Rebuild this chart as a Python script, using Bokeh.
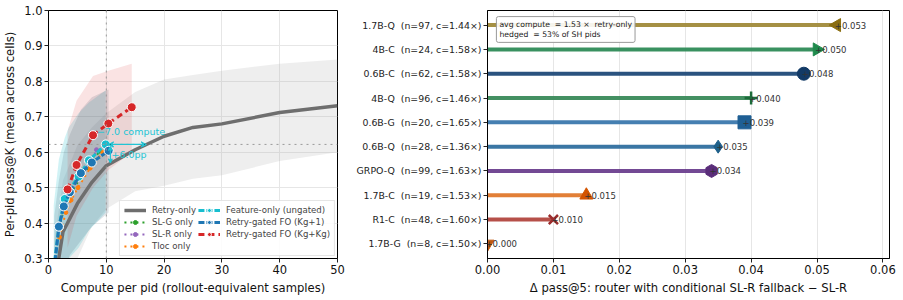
import numpy as np
from bokeh.plotting import figure
from bokeh.layouts import row
from bokeh.models import (ColumnDataSource, Legend, LegendItem, Span, Arrow,
                          VeeHead, Label, FixedTicker, Range1d)
from bokeh.core.properties import value
from bokeh.embed import file_html
from bokeh.resources import INLINE

FONT = "DejaVu Sans"

# ---------------- left panel: pass@K vs compute ----------------
retry_x = [1.0, 2.5, 5.0, 7.5, 10.0, 15.0, 20.0, 25.0, 30.0, 40.0, 50.0]
retry_y = [0.22, 0.375, 0.455, 0.515, 0.562, 0.607, 0.645, 0.670, 0.680, 0.712, 0.731]
retry_lo = [0.05, 0.15, 0.30, 0.39, 0.44, 0.49, 0.505, 0.525, 0.535, 0.575, 0.600]
retry_hi = [0.35, 0.52, 0.62, 0.67, 0.71, 0.77, 0.805, 0.818, 0.830, 0.850, 0.862]

slg_x = [1.8, 2.7, 3.7, 5.4, 7.4, 8.8]
slg_y = [0.385, 0.440, 0.480, 0.525, 0.566, 0.603]

slr_x = [1.8, 2.7, 3.7, 5.3, 7.3, 8.3]
slr_y = [0.383, 0.443, 0.484, 0.530, 0.567, 0.607]

tloc_x = [1.9, 3.0, 3.9, 5.1, 7.2, 9.4]
tloc_y = [0.360, 0.430, 0.465, 0.500, 0.555, 0.600]

feat_x = [0.9, 1.8, 2.8, 3.5, 5.2, 7.0, 9.9]
feat_y = [0.27, 0.390, 0.468, 0.492, 0.531, 0.577, 0.622]
feat_lo = [0.15, 0.22, 0.27, 0.30, 0.33, 0.38, 0.43]
feat_hi = [0.45, 0.58, 0.64, 0.67, 0.71, 0.74, 0.775]

g1_x = [1.0, 1.8, 2.65, 3.7, 5.6, 7.5, 10.4]
g1_y = [0.27, 0.390, 0.447, 0.487, 0.541, 0.571, 0.604]
g1_lo = [0.18, 0.22, 0.26, 0.31, 0.35, 0.39, 0.43]
g1_hi = [0.42, 0.52, 0.60, 0.65, 0.72, 0.755, 0.777]

gg_x = [3.3, 4.85, 7.7, 10.35, 14.4]
gg_y = [0.495, 0.564, 0.648, 0.681, 0.727]
gg_lo = [0.33, 0.42, 0.50, 0.55, 0.60]
gg_hi = [0.66, 0.745, 0.815, 0.830, 0.850]

compute_saving = 7.0   # retry-only compute minus feature-only compute at equal pass@K
pp_gain = 6.0          # pass@K gain of feature-only over retry-only at equal compute

x_ticks_left = [0, 10, 20, 30, 40, 50]
y_ticks_left = [0.3, 0.4, 0.5, 0.6, 0.7, 0.8, 0.9, 1.0]

p1 = figure(width=345, height=300, x_range=Range1d(0, 50), y_range=Range1d(0.3, 1.0),
            output_backend="svg", toolbar_location=None,
            min_border_left=48, min_border_right=8, min_border_top=10, min_border_bottom=42)

# uncertainty bands
p1.varea(x=retry_x, y1=retry_lo, y2=retry_hi, fill_color="#a8a8a8", fill_alpha=0.2)
p1.varea(x=feat_x, y1=feat_lo, y2=feat_hi, fill_color="#17becf", fill_alpha=0.2)
p1.varea(x=g1_x, y1=g1_lo, y2=g1_hi, fill_color="#35556f", fill_alpha=0.16)
p1.varea(x=gg_x, y1=gg_lo, y2=gg_hi, fill_color="#d62728", fill_alpha=0.13)

# reference lines at the feature-only endpoint
p1.add_layout(Span(location=10, dimension="height", line_color="#999999",
                   line_dash="dotted", line_width=1))
p1.add_layout(Span(location=feat_y[-1], dimension="width", line_color="#999999",
                   line_dash="dotted", line_width=1))

items = []
r = p1.line(retry_x, retry_y, line_color="#6e6e6e", line_width=3.5)
items.append(LegendItem(label="Retry-only", renderers=[r]))

def small_series(xs, ys, color, label):
    l = p1.line(xs, ys, line_color=color, line_width=2, line_dash="dotted")
    s = p1.scatter(xs, ys, size=4, fill_color=color, line_color=color)
    items.append(LegendItem(label=label, renderers=[l, s]))

small_series(slg_x, slg_y, "#2ca02c", "SL-G only")
small_series(slr_x, slr_y, "#9467bd", "SL-R only")
small_series(tloc_x, tloc_y, "#ff7f0e", "Tloc only")

def main_series(xs, ys, color, dash, label):
    l = p1.line(xs, ys, line_color=color, line_width=3, line_dash=dash)
    s = p1.scatter(xs, ys, size=9, fill_color=color, line_color="white", line_width=1)
    items.append(LegendItem(label=label, renderers=[l, s]))

main_series(feat_x, feat_y, "#17becf", "6 2", "Feature-only (ungated)")
main_series(g1_x, g1_y, "#1f77b4", "6 2", "Retry-gated FO (Kg+1)")
main_series(gg_x, gg_y, "#d62728", "6 4", "Retry-gated FO (Kg+Kg)")

# savings arrows
fx, fy = feat_x[-1], feat_y[-1]
cyan = "#22c4d4"
p1.add_layout(Arrow(start=VeeHead(size=5, line_color=cyan, line_width=1.2),
                    end=VeeHead(size=5, line_color=cyan, line_width=1.2),
                    x_start=fx + 0.5, y_start=fy, x_end=fx + compute_saving, y_end=fy,
                    line_color=cyan, line_width=1.2))
p1.add_layout(Arrow(start=VeeHead(size=4, line_color=cyan, line_width=1.2),
                    end=VeeHead(size=4, line_color=cyan, line_width=1.2),
                    x_start=fx + 0.8, y_start=fy - 0.006, x_end=fx + 0.8,
                    y_end=fy - pp_gain / 100 + 0.008,
                    line_color=cyan, line_width=1.2))
p1.add_layout(Label(x=8.4, y=0.658, text=f"\u2212{compute_saving:.1f} compute",
                    text_color=cyan, text_font=FONT, text_font_size="9.5px",
                    text_baseline="middle", text_align="left"))
p1.add_layout(Label(x=fx + 1.0, y=0.593, text=f"+{pp_gain:.1f}pp",
                    text_color=cyan, text_font=FONT, text_font_size="9.5px",
                    text_baseline="middle", text_align="left"))

legend = Legend(items=items, location="bottom_right", ncols=2,
                label_text_font=FONT, label_text_font_size="8.6px",
                glyph_width=22, glyph_height=10, label_height=10, spacing=2,
                padding=4, margin=2, label_standoff=6,
                border_line_color="#cccccc", background_fill_alpha=0.85)
p1.add_layout(legend)

p1.xaxis.axis_label = "Compute per pid (rollout-equivalent samples)"
p1.yaxis.axis_label = "Per-pid pass@K (mean across cells)"
p1.xaxis.ticker = FixedTicker(ticks=x_ticks_left)
p1.yaxis.ticker = FixedTicker(ticks=y_ticks_left)
p1.yaxis.major_label_overrides = {t: f"{t:.1f}" for t in y_ticks_left}

# ---------------- right panel: router gain per model ----------------
models = ["1.7B-G", "R1-C", "1.7B-C", "GRPO-Q", "0.6B-Q", "0.6B-G", "4B-Q", "0.6B-C", "4B-C", "1.7B-Q"]
n_pids = [8, 48, 19, 99, 28, 20, 96, 62, 24, 97]
compute_ratio = [1.50, 1.60, 1.53, 1.63, 1.36, 1.65, 1.46, 1.58, 1.58, 1.44]
delta = [0.000, 0.010, 0.015, 0.034, 0.035, 0.039, 0.040, 0.048, 0.050, 0.053]
line_colors = ["#c8621a", "#b2473f", "#e0782c", "#6b3f8e", "#2f6f9f", "#3b78ad",
               "#3a8a5a", "#1f4a78", "#2e8b57", "#a08a3a"]
marker_colors = ["#c0580f", "#9b2c2c", "#d35400", "#5a2d7a", "#1d5f8a", "#1f5f94",
                 "#1d6b3a", "#123a66", "#1f8a4c", "#8a6d0f"]
markers = ["inverted_triangle", "x", "triangle", "hex", "diamond", "square",
           "cross", "circle", "triangle", "triangle"]
angles = [0, 0, 0, np.pi / 2, 0, 0, 0, 0, -np.pi / 2, np.pi / 2]
avg_compute = 1.53
hedged_pct = 53
x_ticks_right = [0.0, 0.01, 0.02, 0.03, 0.04, 0.05, 0.06]

idx = list(range(len(models)))
# non-breaking space keeps the double gap between model name and stats
tick_labels = {i: f"{m} \u00a0(n={n}, c={c:.2f}\u00d7)" for i, (m, n, c) in
               enumerate(zip(models, n_pids, compute_ratio))}

src = ColumnDataSource(dict(
    y=idx, x0=[0.0] * len(idx), v=delta, lc=line_colors, mc=marker_colors,
    mk=markers, ang=angles, txt=[f"+{d:.3f}" for d in delta],
    lw=[2.5 if m in ("x", "cross") else 1 for m in markers],
))

p2 = figure(width=558, height=300, x_range=Range1d(0, 0.061), y_range=Range1d(-0.6, 9.6),
            output_backend="svg", toolbar_location=None,
            min_border_left=142, min_border_right=14, min_border_top=10, min_border_bottom=42)
p2.segment(x0="x0", y0="y", x1="v", y1="y", source=src, line_color="lc",
           line_width=4, line_alpha=0.95)
p2.scatter(x="v", y="y", marker="mk", angle="ang", source=src, size=13,
           fill_color="mc", line_color="mc", line_width="lw")
p2.text(x="v", y="y", text="txt", source=src, x_offset=-2,
        text_font=value(FONT), text_font_size="8.5px", text_color="#333333",
        text_baseline="middle", text_align="left")

p2.add_layout(Label(x=0.00135, y=9.35,
                    text=f"avg compute \u00a0= {avg_compute:.2f} \u00d7 \u00a0retry-only\nhedged \u00a0= {hedged_pct}% of SH pids",
                    text_font=FONT, text_font_size="7.7px", text_color="#222222",
                    text_baseline="top", text_align="left", padding=3,
                    border_line_color="#999999", border_line_width=1,
                    background_fill_color="white", background_fill_alpha=0.9,
                    border_radius=2))

p2.yaxis.ticker = FixedTicker(ticks=idx)
p2.yaxis.major_label_overrides = tick_labels
p2.xaxis.ticker = FixedTicker(ticks=x_ticks_right)
p2.xaxis.major_label_overrides = {t: f"{t:.2f}" for t in x_ticks_right}
p2.xaxis.axis_label = "\u0394 pass@5: router with conditional SL-R fallback \u2212 SL-R"
p2.ygrid.grid_line_color = None

for p in (p1, p2):
    p.outline_line_color = "black"
    p.outline_line_alpha = 1
    p.outline_line_width = 1
    p.background_fill_color = "white"
    p.border_fill_color = "white"
    p.xgrid.grid_line_color = "#e6e6e6"
    for ax in (p.xaxis, p.yaxis):
        ax.axis_line_color = "black"
        ax.major_tick_line_color = "#222222"
        ax.major_tick_in = 0
        ax.major_tick_out = 4
        ax.minor_tick_line_color = None
        ax.major_label_text_font = FONT
        ax.axis_label_text_font = FONT
        ax.axis_label_text_font_style = "normal"
        ax.axis_label_text_font_size = "11.6px"
        ax.major_label_standoff = 2
        ax.axis_label_standoff = 4
        ax.axis_label_text_color = "#111111"
        ax.major_label_text_color = "#111111"
    p.xaxis.major_label_text_font_size = "11.5px"
p1.ygrid.grid_line_color = "#e6e6e6"
p1.yaxis.major_label_text_font_size = "11.5px"
p2.yaxis.major_label_text_font_size = "9.4px"
p2.yaxis.major_label_text_color = "#222222"

layout = row(p1, p2)
open("out.html", "w").write(file_html(layout, INLINE))
